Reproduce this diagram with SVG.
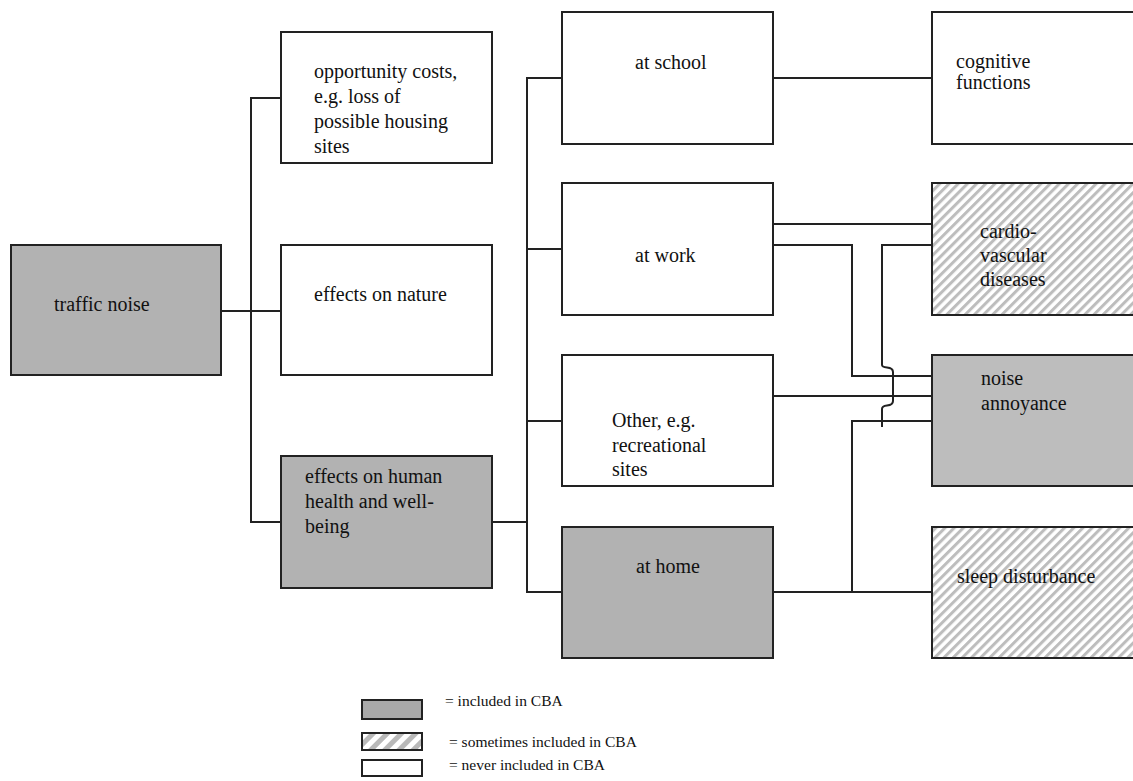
<svg xmlns="http://www.w3.org/2000/svg" width="1133" height="781" viewBox="0 0 1133 781">
<style>
.box{stroke:#222;stroke-width:2}
.gray{fill:#b2b2b2}
.light{fill:#bdbdbd}
.white{fill:#fff}
.hatch{fill:url(#hatch)}
.t{font-family:"Liberation Serif","Times New Roman",serif;font-size:20px;fill:#111}
.lg{font-family:"Liberation Serif","Times New Roman",serif;font-size:15.5px;fill:#111}
.conn{fill:none;stroke:#222;stroke-width:2}
</style>
<defs>
<pattern id="hatch" patternUnits="userSpaceOnUse" width="6.5" height="6.5" patternTransform="rotate(45)">
<rect width="6.5" height="6.5" fill="#fff"/>
<rect width="3" height="6.5" fill="#bdbdbd"/>
</pattern>
<pattern id="hatch2" patternUnits="userSpaceOnUse" width="10" height="10" patternTransform="rotate(45)">
<rect width="10" height="10" fill="#fff"/>
<rect width="5" height="10" fill="#b9b9b9"/>
</pattern>
</defs>
<rect width="1133" height="781" fill="#fff"/>
<g id="connectors">
<path class="conn" d="M221,311 H281"/>
<path class="conn" d="M281,98 H251 V522 H281"/>
<path class="conn" d="M492,522 H527"/>
<path class="conn" d="M562,78 H527 V592 H562"/>
<path class="conn" d="M527,249 H562"/>
<path class="conn" d="M527,421 H562"/>
<path class="conn" d="M773,78 H932"/>
<path class="conn" d="M773,224 H932"/>
<path class="conn" d="M773,245 H852 V376 H932"/>
<path class="conn" d="M932,245 H882 V365 Q882,367 887,367.5 Q893,368 893,372 V401 Q893,405 887,405.5 Q882,406 882,409 V427"/>
<path class="conn" d="M773,396 H932"/>
<path class="conn" d="M932,421 H852 V592"/>
<path class="conn" d="M773,592 H932"/>
</g>
<g id="traffic-noise">
<rect class="box gray" x="11" y="245" width="210" height="130"/>
<text class="t" x="54" y="311">traffic noise</text>
</g>
<g id="opportunity-costs">
<rect class="box white" x="281" y="32" width="211" height="131"/>
<text class="t"><tspan x="314" y="78">opportunity costs,</tspan><tspan x="314" y="103">e.g. loss of</tspan><tspan x="314" y="128">possible housing</tspan><tspan x="314" y="153">sites</tspan></text>
</g>
<g id="effects-on-nature">
<rect class="box white" x="281" y="245" width="211" height="130"/>
<text class="t" x="314" y="301">effects on nature</text>
</g>
<g id="effects-on-health">
<rect class="box gray" x="281" y="456" width="211" height="132"/>
<text class="t"><tspan x="305" y="483">effects on human</tspan><tspan x="305" y="508">health and well-</tspan><tspan x="305" y="533">being</tspan></text>
</g>
<g id="at-school">
<rect class="box white" x="562" y="12" width="211" height="132"/>
<text class="t" x="635" y="69">at school</text>
</g>
<g id="at-work">
<rect class="box white" x="562" y="183" width="211" height="132"/>
<text class="t" x="635" y="262">at work</text>
</g>
<g id="other">
<rect class="box white" x="562" y="355" width="211" height="131"/>
<text class="t"><tspan x="612" y="427">Other, e.g.</tspan><tspan x="612" y="452">recreational</tspan><tspan x="612" y="476">sites</tspan></text>
</g>
<g id="at-home">
<rect class="box gray" x="562" y="527" width="211" height="131"/>
<text class="t" x="636" y="573">at home</text>
</g>
<g id="cognitive-functions">
<rect class="box white" x="932" y="12" width="210" height="132"/>
<text class="t"><tspan x="956" y="68">cognitive</tspan><tspan x="956" y="89">functions</tspan></text>
</g>
<g id="cardiovascular-diseases">
<rect class="box hatch" x="932" y="183" width="210" height="132"/>
<text class="t"><tspan x="980" y="238">cardio-</tspan><tspan x="980" y="262">vascular</tspan><tspan x="980" y="286">diseases</tspan></text>
</g>
<g id="noise-annoyance">
<rect class="box light" x="932" y="355" width="210" height="131"/>
<text class="t"><tspan x="981" y="385">noise</tspan><tspan x="981" y="410">annoyance</tspan></text>
</g>
<g id="sleep-disturbance">
<rect class="box hatch" x="932" y="527" width="210" height="131"/>
<text class="t" x="957" y="583">sleep disturbance</text>
</g>
<g id="legend">
<rect class="box" fill="#a9a9a9" x="362" y="700" width="60" height="19"/>
<rect class="box" fill="url(#hatch2)" x="362" y="733" width="60" height="17"/>
<rect class="box white" x="362" y="760" width="60" height="16"/>
<text class="lg" x="445" y="706">= included in CBA</text>
<text class="lg" x="449" y="747">= sometimes included in CBA</text>
<text class="lg" x="449" y="770">= never included in CBA</text>
</g>
</svg>
